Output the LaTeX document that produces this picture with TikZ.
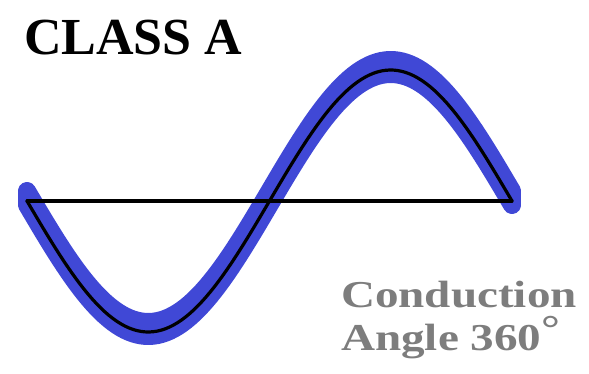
\documentclass[tikz,border=0pt]{standalone}
\usepackage{fontspec}
\usepackage{graphicx}
\setmainfont{Liberation Serif}
\definecolor{waveblue}{RGB}{64,72,214}
\definecolor{labelgray}{RGB}{125,125,125}
\begin{document}
\begin{tikzpicture}[x=1pt,y=-1pt,
  bluepen/.style={draw=waveblue,line width=18pt,line cap=round,line join=round},
  blackpen/.style={draw=black,line width=3.2pt,line cap=round,line join=round},
  titletext/.style={anchor=base west,inner sep=0pt,font=\bfseries\fontsize{52}{52}\selectfont},
  graytext/.style={anchor=base west,inner sep=0pt,text=labelgray,font=\bfseries\fontsize{38}{38}\selectfont}]
\useasboundingbox (0,0) rectangle (589,374);
% thick blue band (tall pen)
\foreach \s in {-10,-8,-6,-4,-2,0,2,4}{
  \draw[bluepen] plot[domain=0:360,samples=120,variable=\t] ({27+1.34722*\t},{201+131*sin(\t)+\s});
}
% axis
\coordinate (L) at (27,201);
\coordinate (R) at (512,201);
\draw[blackpen] (L) -- (R);
% black sine
\draw[blackpen] plot[domain=0:360,samples=120,variable=\t] ({27+1.34722*\t},{201+131*sin(\t)});
% labels
\node[titletext] (title) at (24,55) {CLASS A};
\node[graytext] (cond) at (341,307) {\scalebox{1.24}[1]{Conduction}};
\node[graytext] (angle) at (341,350) {\scalebox{1.24}[1]{Angle 360\raisebox{0.22em}{°}}};
\end{tikzpicture}
\end{document}
